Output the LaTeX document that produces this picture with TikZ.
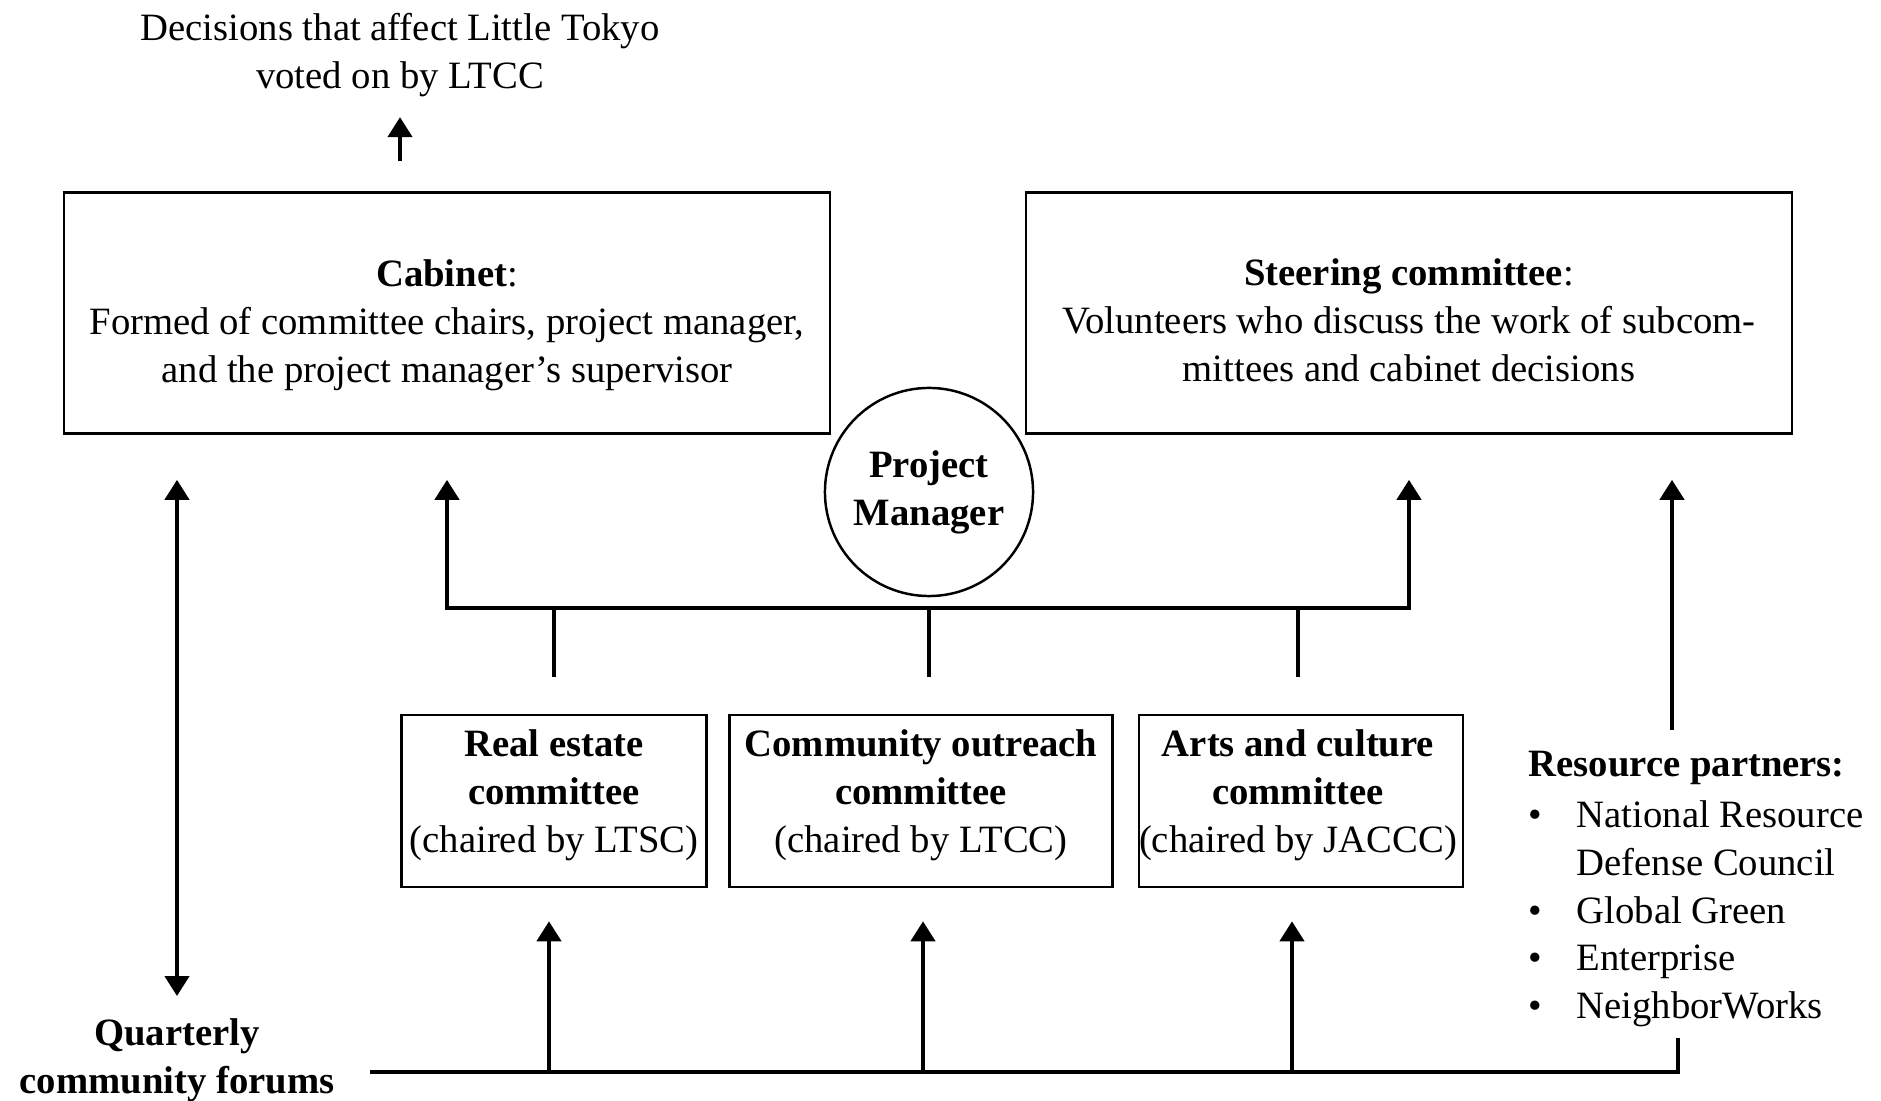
\documentclass[tikz,border=0pt]{standalone}
\usepackage{fontspec}
\setmainfont{Liberation Serif}
\usetikzlibrary{arrows.meta,positioning,calc}

\tikzset{
  box/.style={draw, line width=0.7pt, align=center, inner sep=0pt},
  arr/.style={line width=1.2pt, -{Triangle[width=2.4mm,length=2mm]}},
  bus/.style={line width=1.2pt},
}

\begin{document}
\begin{tikzpicture}[x=0.01cm,y=-0.01cm,font=\fontsize{11}{13.6}\selectfont]
        \useasboundingbox (0,0) rectangle (1881,1101);
        % upper level
        \node[align=center] (votes) at (400,55) {Decisions that affect Little Tokyo\\voted on by LTCC};
        \node[box,minimum width=7.66cm,minimum height=2.41cm] (cabinet) at (447,313) {};
        \node[align=center] (cabinettext) at (447,325)
          {\textbf{Cabinet}:\\Formed of committee chairs, project manager,\\and the project manager's supervisor};
        \node[box,minimum width=7.66cm,minimum height=2.41cm] (steering) at (1409,313) {};
        \node[align=center] (steeringtext) at (1409,320)
          {\textbf{Steering committee}:\\Volunteers who discuss the work of subcom-\\mittees and cabinet decisions};
        \node[box,circle,minimum size=2.08cm,font=\fontsize{11}{13.6}\selectfont\bfseries] (pm) at (929,492) {Project\\Manager};
        % committees
        \node[box,minimum width=3.05cm,minimum height=1.72cm] (realestate) at (554,801) {};
        \node[align=center] (realestatetext) at (554,795)
          {\textbf{Real estate}\\\textbf{committee}\\(chaired by LTSC)};
        \node[box,minimum width=3.83cm,minimum height=1.72cm] (outreach) at (921,801) {};
        \node[align=center] (outreachtext) at (921,795)
          {\textbf{Community outreach}\\\textbf{committee}\\(chaired by LTCC)};
        \node[box,minimum width=3.24cm,minimum height=1.72cm] (arts) at (1301,801) {};
        \node[align=center] (artstext) at (1298,795)
          {\textbf{Arts and culture}\\\textbf{committee}\\(chaired by JACCC)};
        % side labels
        \node[align=center,font=\fontsize{11}{13.6}\selectfont\bfseries] (forums) at (177,1060) {Quarterly\\community forums};
        \node[align=left,anchor=north west,inner sep=0pt] (partners) at (1528,750)
          {\textbf{Resource partners:}\\[1pt]
           \makebox[4.8mm][l]{\textbullet}National Resource\\
           \hspace*{4.8mm}Defense Council\\
           \makebox[4.8mm][l]{\textbullet}Global Green\\
           \makebox[4.8mm][l]{\textbullet}Enterprise\\
           \makebox[4.8mm][l]{\textbullet}NeighborWorks};
        % bus lines
        \coordinate (ub) at (0,608);
        \coordinate (lb) at (370,1072);
        \coordinate (rb) at (1678,1072);
        \coordinate (rtop) at (1678,1038);
        \coordinate (rp) at (1672,730);
        \draw[arr,shorten <=3mm,shorten >=0.8mm] (cabinet.north -| votes) -- (votes.south);
        \draw[line width=1.2pt,{Triangle[width=2.4mm,length=2mm]}-{Triangle[width=2.4mm,length=2mm]},shorten <=4.5mm,shorten >=4.5mm]
          (cabinet.south) -- (cabinet.south |- ub) -- (steering.south |- ub) -- (steering.south);
        \draw[bus,shorten >=3.7mm] (realestate.north |- ub) -- (realestate.north);
        \draw[bus,shorten >=3.7mm] (pm.south |- ub) -- (pm.south |- outreach.north);
        \draw[bus,shorten >=3.7mm] (artstext.north |- ub) -- (artstext.north |- arts.north);
        \draw[bus] (lb) -- (rb) -- (rtop);
        \draw[arr,shorten >=3.3mm] ([xshift=-0.5mm]realestate.south |- lb) -- ([xshift=-0.5mm]realestate.south);
        \draw[arr,shorten >=3.3mm] ([xshift=0.2mm]outreach.south |- lb) -- ([xshift=0.2mm]outreach.south);
        \draw[arr,shorten >=3.3mm] ([xshift=-0.9mm]arts.south |- lb) -- ([xshift=-0.9mm]arts.south);
        \draw[arr,shorten >=4.5mm] (rp) -- (rp |- steering.south);
        \draw[line width=1.2pt,{Triangle[width=2.4mm,length=2mm]}-{Triangle[width=2.4mm,length=2mm]},shorten <=4.5mm,shorten >=1mm]
          (cabinet.south -| forums) -- (forums.north);
\end{tikzpicture}
\end{document}
